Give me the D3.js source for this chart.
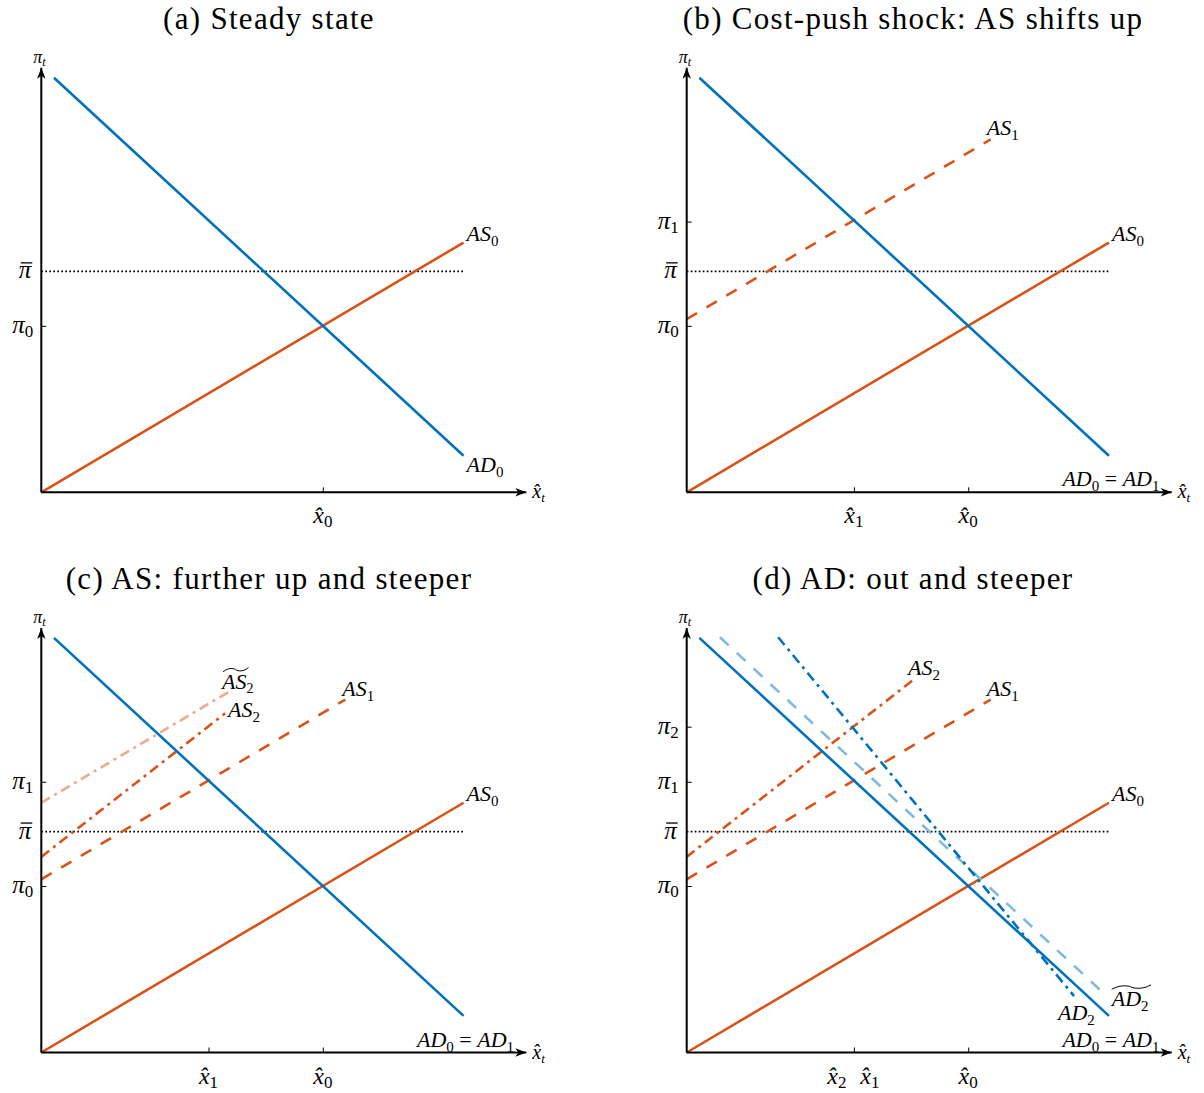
<!DOCTYPE html>
<html>
<head>
<meta charset="utf-8">
<script src="https://cdn.jsdelivr.net/npm/d3@7"></script>
<style>
  html, body { margin: 0; padding: 0; background: #fff; }
  svg { display: block; }
  text { font-family: "Liberation Serif", "DejaVu Serif", serif; fill: #000; }
</style>
</head>
<body>
<svg id="chart" width="1204" height="1093"></svg>
<script>
// ---------------- DATA (model units: x̂0 = 1, π0 = 1) ----------------
const AD0      = [[0.045, 2.49], [1.5, 0.22]];
const AS0      = [[0, 0], [1.5, 1.5]];
const AS1      = [[0, 1.04], [1.08, 2.12]];
const AS2c     = [[0, 1.175], [0.653, 2.037]];
const AS2d     = [[0, 1.175], [0.811, 2.246]];
const AS2tilde = [[0, 1.5], [0.667, 2.167]];
const AD2      = [[0.325, 2.494], [1.376, 0.339]];
const AD2tilde = [[0.118, 2.494], [1.492, 0.339]];
const piBar    = 1.327;
const piBarSpan = [0, 1.5];
const piValues = { pi0: 1, pi1: 1.626, pi2: 1.957 };
const xValues  = { x0: 1, x1: 0.594, x2: 0.594 };
const axisMax  = { x: 1.723, y: 2.55 };
const titles   = ["(a) Steady state", "(b) Cost-push shock: AS shifts up",
                  "(c) AS: further up and steeper", "(d) AD: out and steeper"];

// ---------------- STYLE ----------------
const C = { blue: "#0072BD", orange: "#D95319", lblue: "#80B9DE", lorange: "#ECA98C" };
const DASH = { solid: null, dashed: "12,11", dashdot: "10,5,3,5" };
const PX_X = 281.5, PX_Y = 166.5;

const svg = d3.select("#chart");
const defs = svg.append("defs");
defs.append("marker").attr("id", "arrow")
  .attr("viewBox", "-12 -5 13 10").attr("refX", 0).attr("refY", 0)
  .attr("markerWidth", 13).attr("markerHeight", 10)
  .attr("markerUnits", "userSpaceOnUse").attr("orient", "auto")
  .append("path").attr("d", "M0,0 L-11,-4.2 L-8,0 L-11,4.2 Z").attr("fill", "#000");

// rich text helper: parts = [{t, i (italic), sub}]
function rich(g, x, y, parts, opts = {}) {
  const size = opts.size || 22, sub = opts.sub || 15;
  const t = g.append("text").attr("x", x).attr("y", y).attr("font-size", size);
  if (opts.anchor) t.attr("text-anchor", opts.anchor);
  let down = false;
  parts.forEach(p => {
    const s = t.append("tspan").text(p.t);
    if (p.i) s.attr("font-style", "italic");
    if (p.sub) { s.attr("font-size", sub); if (!down) { s.attr("dy", opts.subDy || 5); down = true; } }
    else if (down) { s.attr("dy", -(opts.subDy || 5)); down = false; }
  });
  return t;
}
function tildeOver(g, x0, x1, y) {
  const w = x1 - x0, a = 2.2;
  g.append("path")
    .attr("d", `M${x0},${y + a} C${x0 + w * 0.25},${y - a * 1.6} ${x0 + w * 0.5},${y - a * 0.2} ${x0 + w * 0.5},${y}` +
               ` S${x0 + w * 0.75},${y + a * 1.6} ${x1},${y - a}`)
    .attr("fill", "none").attr("stroke", "#000").attr("stroke-width", 1);
}

const panels = [
  { ox: 41.3,  oy: 492.3,  tx: 269, ty: 29 },
  { ox: 686.7, oy: 492.3,  tx: 913, ty: 29 },
  { ox: 41.3,  oy: 1052.5, tx: 269, ty: 589 },
  { ox: 686.7, oy: 1052.5, tx: 913, ty: 589 }
];

panels.forEach((P, k) => {
  const g = svg.append("g");
  const x = d3.scaleLinear().domain([0, axisMax.x]).range([P.ox, P.ox + axisMax.x * PX_X]);
  const y = d3.scaleLinear().domain([0, axisMax.y]).range([P.oy, P.oy - axisMax.y * PX_Y]);
  const line = d3.line().x(d => x(d[0])).y(d => y(d[1]));

  // title
  g.append("text").attr("x", P.tx).attr("y", P.ty).attr("text-anchor", "middle")
    .attr("font-size", 31).attr("letter-spacing", 1.3).text(titles[k]);

  // ticks through d3 axes
  const xt = k === 0 ? [xValues.x0] : (k === 3 ? [xValues.x2, xValues.x0] : [xValues.x1, xValues.x0]);
  const yt = k === 0 ? [piValues.pi0] : (k === 3 ? [piValues.pi0, piValues.pi1, piValues.pi2] : [piValues.pi0, piValues.pi1]);
  const ax = g.append("g").attr("transform", `translate(0,${P.oy})`)
    .call(d3.axisBottom(x).tickValues(xt).tickSizeInner(-5).tickSizeOuter(0).tickFormat(""));
  const ay = g.append("g").attr("transform", `translate(${P.ox},0)`)
    .call(d3.axisLeft(y).tickValues(yt).tickSizeInner(-5).tickSizeOuter(0).tickFormat(""));
  [ax, ay].forEach(a => { a.select(".domain").remove(); a.selectAll("line").attr("stroke", "#000").attr("stroke-width", 1); });

  // dotted π̄ line
  g.append("line").attr("x1", x(piBarSpan[0])).attr("x2", x(piBarSpan[1]))
    .attr("y1", y(piBar)).attr("y2", y(piBar))
    .attr("stroke", "#000").attr("stroke-width", 1.7).attr("stroke-dasharray", "1.7,2.3");

  // curves
  const series = [];
  if (k === 2) {
    series.push({ d: AS2tilde, c: C.lorange, s: "dashdot" });
    series.push({ d: AS2c, c: C.orange, s: "dashdot" });
    series.push({ d: AS1, c: C.orange, s: "dashed" });
  }
  if (k === 1) series.push({ d: AS1, c: C.orange, s: "dashed" });
  if (k === 3) {
    series.push({ d: AS2d, c: C.orange, s: "dashdot" });
    series.push({ d: AS1, c: C.orange, s: "dashed" });
  }
  series.push({ d: AS0, c: C.orange, s: "solid" });
  series.push({ d: AD0, c: C.blue, s: "solid" });
  if (k === 3) {
    series.push({ d: AD2tilde, c: C.lblue, s: "dashed" });
    series.push({ d: AD2, c: C.blue, s: "dashdot" });
  }
  series.forEach(sr => {
    const p = g.append("path").attr("d", line(sr.d)).attr("fill", "none")
      .attr("stroke", sr.c).attr("stroke-width", 2.6);
    if (DASH[sr.s]) p.attr("stroke-dasharray", DASH[sr.s]);
  });

  // axes with arrows
  g.append("line").attr("x1", x(0)).attr("y1", y(0)).attr("x2", x(axisMax.x)).attr("y2", y(0))
    .attr("stroke", "#000").attr("stroke-width", 2).attr("marker-end", "url(#arrow)");
  g.append("line").attr("x1", x(0)).attr("y1", y(0)).attr("x2", x(0)).attr("y2", y(axisMax.y))
    .attr("stroke", "#000").attr("stroke-width", 2).attr("marker-end", "url(#arrow)");

  // axis names
  rich(g, x(0) - 8, y(axisMax.y) - 5, [{ t: "π", i: true }, { t: "t", i: true, sub: true }], { size: 18, sub: 12, subDy: 3 });
  rich(g, x(axisMax.x) + 6, y(0) + 6, [{ t: "x\u0302", i: true }, { t: "t", i: true, sub: true }], { size: 20, sub: 13, subDy: 4 });

  // y tick labels
  const ylab = (v, name) => rich(g, x(0) - 8, y(v) + 7, [{ t: "π", i: true }, { t: name, sub: true }], { anchor: "end", size: 25, sub: 17, subDy: 4 });
  ylab(piValues.pi0, "0");
  if (k > 0) ylab(piValues.pi1, "1");
  if (k === 3) ylab(piValues.pi2, "2");
  const pb = g.append("text").attr("x", x(0) - 10).attr("y", y(piBar) + 7).attr("text-anchor", "end")
    .attr("font-size", 25).attr("font-style", "italic").text("π");
  const pbw = pb.node().getComputedTextLength();
  g.append("line").attr("x1", x(0) - 10 - pbw + 2).attr("x2", x(0) - 10 + 1)
    .attr("y1", y(piBar) - 8.5).attr("y2", y(piBar) - 8.5).attr("stroke", "#000").attr("stroke-width", 1.3);

  // x tick labels
  const xlab = (v, name, dx) => rich(g, x(v) + dx, y(0) + 31, [{ t: "x\u0302", i: true }, { t: name, sub: true }], { anchor: "middle", size: 24, sub: 17, subDy: 4 });
  xlab(xValues.x0, "0", 0);
  if (k === 1 || k === 2) xlab(xValues.x1, "1", 0);
  if (k === 3) { xlab(xValues.x2, "2", -17); xlab(xValues.x1, "1", 16); }

  // curve labels
  const AS = n => [{ t: "AS", i: true }, { t: n, sub: true }];
  const AD = n => [{ t: "AD", i: true }, { t: n, sub: true }];
  const end = d => [x(d[1][0]), y(d[1][1])];
  let e = end(AS0); rich(g, e[0] + 3, e[1] - 2, AS("0"));
  if (k === 0) { e = end(AD0); rich(g, e[0] + 3, e[1] + 16, AD("0")); }
  else {
    e = end(AD0);
    rich(g, e[0] + 2, y(0) - 6, [{ t: "AD", i: true }, { t: "0", sub: true }, { t: " = " }, { t: "AD", i: true }, { t: "1", sub: true }], { anchor: "middle" });
  }
  if (k >= 1) {
    const a1 = end(AS1);
    const dx = k === 2 ? -3 : -4;
    rich(g, a1[0] + dx, a1[1] - 4, AS("1"));
  }
  if (k === 2) {
    e = end(AS2tilde);
    const t = rich(g, e[0] - 7, e[1] - 3, AS("2"), { sub: 14, subDy: 4 });
    const len = t.select("tspan").node().getComputedTextLength();
    tildeOver(g, e[0] - 6, e[0] - 7 + len + 2, e[1] - 22);
    e = end(AS2c); rich(g, e[0] + 3, e[1] + 4, AS("2"));
  }
  if (k === 3) {
    e = end(AS2d); rich(g, e[0] - 7, e[1] - 4, AS("2"));
    e = end(AD2tilde);
    const t = rich(g, e[0] + 5, e[1] + 10, AD("2"));
    const len = t.select("tspan").node().getComputedTextLength();
    tildeOver(g, e[0] + 5, e[0] + 5 + len + 10, e[1] - 9);
    e = end(AD2); rich(g, e[0] - 16, e[1] + 24, AD("2"));
  }
});
</script>
</body>
</html>
